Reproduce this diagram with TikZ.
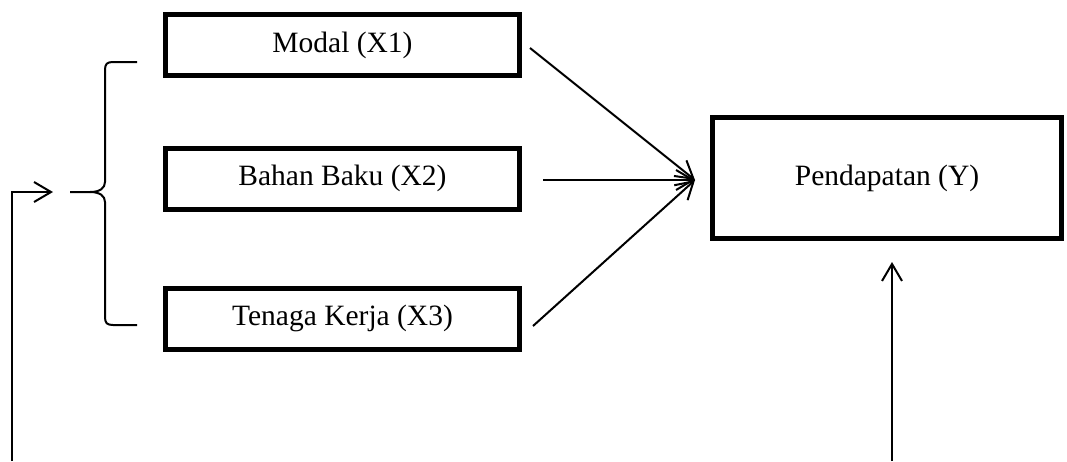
\documentclass[tikz,border=0pt]{standalone}
\usepackage{fontspec}
\setmainfont{Liberation Serif}
\usetikzlibrary{arrows.meta}
\begin{document}
\begin{tikzpicture}[x=1pt,y=-1pt,
  varbox/.style={draw, line width=5pt, minimum width=354pt, minimum height=61pt,
    inner sep=0pt, font=\fontsize{29.5}{33}\selectfont},
  arr/.style={line width=2pt, -{Straight Barb[length=17pt,width=20pt,line width=2pt]}},
  thinline/.style={line width=2pt}]
\useasboundingbox (0,0) rectangle (1067,461);

% input variables
\node[varbox] (x1) at (342.5,45) {Modal (X1)};
\node[varbox] (x2) at (342.5,178.5) {Bahan Baku (X2)};
\node[varbox] (x3) at (342.5,318.5) {Tenaga Kerja (X3)};

% outcome
\node[varbox, minimum width=349pt, minimum height=121pt] (y) at (887,178) {Pendapatan (Y)};

% arrow start and end points
\coordinate (tip) at (695,180);
\coordinate (x1out) at (530,48);
\coordinate (x2out) at (543,180);
\coordinate (x3out) at (533,326);
\coordinate (upstart) at (892,461);
\coordinate (upend) at (892,262);
\coordinate (fbstart) at (12,461);
\coordinate (fbend) at (53,192);

\draw[arr] (x1out) -- (tip);
\draw[arr] (x2out) -- (tip);
\draw[arr] (x3out) -- (tip);
\draw[arr] (upstart) -- (upend);
\draw[arr] (fbstart) |- (fbend);

% curly brace grouping the inputs
\draw[thinline] (137,62) -- (113,62) .. controls (107,62) and (105,64) .. (105,70)
  -- (105,182) .. controls (105,188) and (100,192) .. (90,192) -- (70,192);
\draw[thinline] (137,325) -- (113,325) .. controls (107,325) and (105,323) .. (105,317)
  -- (105,202) .. controls (105,196) and (100,192) .. (90,192);
\end{tikzpicture}
\end{document}
